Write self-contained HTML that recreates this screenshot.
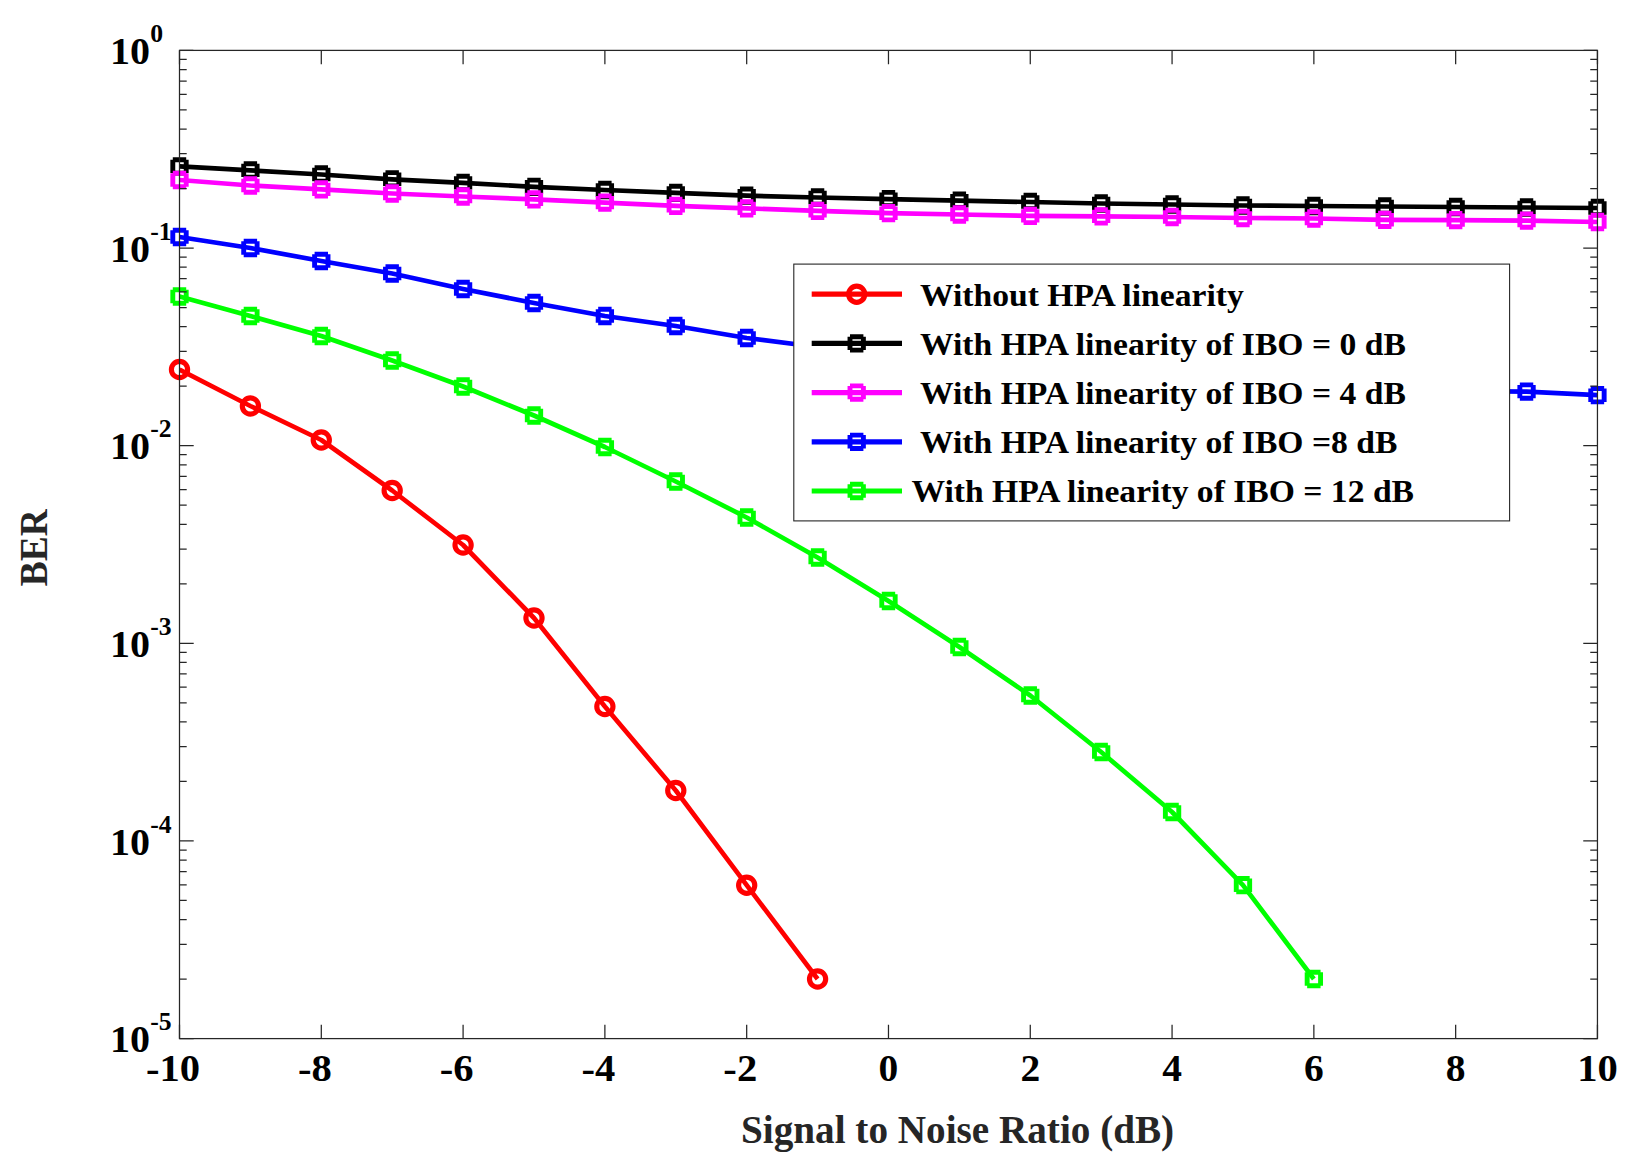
<!DOCTYPE html>
<html lang="en"><head><meta charset="utf-8"><title>BER vs SNR</title>
<style>html,body{margin:0;padding:0;background:#fff}body{width:1642px;height:1171px;overflow:hidden}svg{display:block}text{font-family:"Liberation Serif","DejaVu Serif",serif;font-weight:bold}</style>
</head><body>
<svg width="1642" height="1171" viewBox="0 0 1642 1171">
<rect x="0" y="0" width="1642" height="1171" fill="#fff"/>
<defs><clipPath id="ax"><rect x="179.5" y="50.4" width="1418.0" height="988.2"/></clipPath></defs>
<polyline points="179.50,369.50 250.40,406.00 321.30,440.00 392.19,490.50 463.09,545.00 533.99,618.00 604.88,706.50 675.78,790.50 746.68,885.20 817.58,979.00" fill="none" stroke="#ff0000" stroke-width="4.70" stroke-linejoin="round" clip-path="url(#ax)"/>
<circle cx="179.50" cy="369.50" r="8.10" stroke="#ff0000" stroke-width="5.15" fill="none"/>
<circle cx="250.40" cy="406.00" r="8.10" stroke="#ff0000" stroke-width="5.15" fill="none"/>
<circle cx="321.30" cy="440.00" r="8.10" stroke="#ff0000" stroke-width="5.15" fill="none"/>
<circle cx="392.19" cy="490.50" r="8.10" stroke="#ff0000" stroke-width="5.15" fill="none"/>
<circle cx="463.09" cy="545.00" r="8.10" stroke="#ff0000" stroke-width="5.15" fill="none"/>
<circle cx="533.99" cy="618.00" r="8.10" stroke="#ff0000" stroke-width="5.15" fill="none"/>
<circle cx="604.88" cy="706.50" r="8.10" stroke="#ff0000" stroke-width="5.15" fill="none"/>
<circle cx="675.78" cy="790.50" r="8.10" stroke="#ff0000" stroke-width="5.15" fill="none"/>
<circle cx="746.68" cy="885.20" r="8.10" stroke="#ff0000" stroke-width="5.15" fill="none"/>
<circle cx="817.58" cy="979.00" r="8.10" stroke="#ff0000" stroke-width="5.15" fill="none"/>
<polyline points="179.50,166.40 250.40,170.40 321.30,174.50 392.19,179.30 463.09,182.90 533.99,186.80 604.88,190.00 675.78,192.90 746.68,195.70 817.58,197.50 888.48,199.10 959.37,200.70 1030.27,202.00 1101.17,203.50 1172.07,204.50 1242.96,205.50 1313.86,206.00 1384.76,206.50 1455.66,207.00 1526.55,207.50 1597.45,208.00" fill="none" stroke="#000000" stroke-width="4.70" stroke-linejoin="round" clip-path="url(#ax)"/>
<path d="M172.80 159.70H186.20M172.80 173.10H186.20M172.80 159.70V173.10M186.20 159.70V173.10" stroke="#000000" stroke-width="4.90" fill="none"/>
<path d="M243.70 163.70H257.10M243.70 177.10H257.10M243.70 163.70V177.10M257.10 163.70V177.10" stroke="#000000" stroke-width="4.90" fill="none"/>
<path d="M314.60 167.80H328.00M314.60 181.20H328.00M314.60 167.80V181.20M328.00 167.80V181.20" stroke="#000000" stroke-width="4.90" fill="none"/>
<path d="M385.49 172.60H398.89M385.49 186.00H398.89M385.49 172.60V186.00M398.89 172.60V186.00" stroke="#000000" stroke-width="4.90" fill="none"/>
<path d="M456.39 176.20H469.79M456.39 189.60H469.79M456.39 176.20V189.60M469.79 176.20V189.60" stroke="#000000" stroke-width="4.90" fill="none"/>
<path d="M527.29 180.10H540.69M527.29 193.50H540.69M527.29 180.10V193.50M540.69 180.10V193.50" stroke="#000000" stroke-width="4.90" fill="none"/>
<path d="M598.18 183.30H611.59M598.18 196.70H611.59M598.18 183.30V196.70M611.59 183.30V196.70" stroke="#000000" stroke-width="4.90" fill="none"/>
<path d="M669.08 186.20H682.48M669.08 199.60H682.48M669.08 186.20V199.60M682.48 186.20V199.60" stroke="#000000" stroke-width="4.90" fill="none"/>
<path d="M739.98 189.00H753.38M739.98 202.40H753.38M739.98 189.00V202.40M753.38 189.00V202.40" stroke="#000000" stroke-width="4.90" fill="none"/>
<path d="M810.88 190.80H824.28M810.88 204.20H824.28M810.88 190.80V204.20M824.28 190.80V204.20" stroke="#000000" stroke-width="4.90" fill="none"/>
<path d="M881.78 192.40H895.18M881.78 205.80H895.18M881.78 192.40V205.80M895.18 192.40V205.80" stroke="#000000" stroke-width="4.90" fill="none"/>
<path d="M952.67 194.00H966.07M952.67 207.40H966.07M952.67 194.00V207.40M966.07 194.00V207.40" stroke="#000000" stroke-width="4.90" fill="none"/>
<path d="M1023.57 195.30H1036.97M1023.57 208.70H1036.97M1023.57 195.30V208.70M1036.97 195.30V208.70" stroke="#000000" stroke-width="4.90" fill="none"/>
<path d="M1094.47 196.80H1107.87M1094.47 210.20H1107.87M1094.47 196.80V210.20M1107.87 196.80V210.20" stroke="#000000" stroke-width="4.90" fill="none"/>
<path d="M1165.37 197.80H1178.77M1165.37 211.20H1178.77M1165.37 197.80V211.20M1178.77 197.80V211.20" stroke="#000000" stroke-width="4.90" fill="none"/>
<path d="M1236.26 198.80H1249.66M1236.26 212.20H1249.66M1236.26 198.80V212.20M1249.66 198.80V212.20" stroke="#000000" stroke-width="4.90" fill="none"/>
<path d="M1307.16 199.30H1320.56M1307.16 212.70H1320.56M1307.16 199.30V212.70M1320.56 199.30V212.70" stroke="#000000" stroke-width="4.90" fill="none"/>
<path d="M1378.06 199.80H1391.46M1378.06 213.20H1391.46M1378.06 199.80V213.20M1391.46 199.80V213.20" stroke="#000000" stroke-width="4.90" fill="none"/>
<path d="M1448.96 200.30H1462.36M1448.96 213.70H1462.36M1448.96 200.30V213.70M1462.36 200.30V213.70" stroke="#000000" stroke-width="4.90" fill="none"/>
<path d="M1519.85 200.80H1533.25M1519.85 214.20H1533.25M1519.85 200.80V214.20M1533.25 200.80V214.20" stroke="#000000" stroke-width="4.90" fill="none"/>
<path d="M1590.75 201.30H1604.15M1590.75 214.70H1604.15M1590.75 201.30V214.70M1604.15 201.30V214.70" stroke="#000000" stroke-width="4.90" fill="none"/>
<polyline points="179.50,180.00 250.40,185.50 321.30,189.40 392.19,193.50 463.09,196.50 533.99,199.40 604.88,202.60 675.78,205.90 746.68,208.40 817.58,210.90 888.48,213.20 959.37,214.50 1030.27,215.90 1101.17,216.40 1172.07,217.00 1242.96,218.00 1313.86,218.50 1384.76,219.80 1455.66,220.10 1526.55,220.60 1597.45,222.00" fill="none" stroke="#ff00ff" stroke-width="4.70" stroke-linejoin="round" clip-path="url(#ax)"/>
<path d="M172.80 173.30H186.20M172.80 186.70H186.20M172.80 173.30V186.70M186.20 173.30V186.70" stroke="#ff00ff" stroke-width="4.90" fill="none"/>
<path d="M243.70 178.80H257.10M243.70 192.20H257.10M243.70 178.80V192.20M257.10 178.80V192.20" stroke="#ff00ff" stroke-width="4.90" fill="none"/>
<path d="M314.60 182.70H328.00M314.60 196.10H328.00M314.60 182.70V196.10M328.00 182.70V196.10" stroke="#ff00ff" stroke-width="4.90" fill="none"/>
<path d="M385.49 186.80H398.89M385.49 200.20H398.89M385.49 186.80V200.20M398.89 186.80V200.20" stroke="#ff00ff" stroke-width="4.90" fill="none"/>
<path d="M456.39 189.80H469.79M456.39 203.20H469.79M456.39 189.80V203.20M469.79 189.80V203.20" stroke="#ff00ff" stroke-width="4.90" fill="none"/>
<path d="M527.29 192.70H540.69M527.29 206.10H540.69M527.29 192.70V206.10M540.69 192.70V206.10" stroke="#ff00ff" stroke-width="4.90" fill="none"/>
<path d="M598.18 195.90H611.59M598.18 209.30H611.59M598.18 195.90V209.30M611.59 195.90V209.30" stroke="#ff00ff" stroke-width="4.90" fill="none"/>
<path d="M669.08 199.20H682.48M669.08 212.60H682.48M669.08 199.20V212.60M682.48 199.20V212.60" stroke="#ff00ff" stroke-width="4.90" fill="none"/>
<path d="M739.98 201.70H753.38M739.98 215.10H753.38M739.98 201.70V215.10M753.38 201.70V215.10" stroke="#ff00ff" stroke-width="4.90" fill="none"/>
<path d="M810.88 204.20H824.28M810.88 217.60H824.28M810.88 204.20V217.60M824.28 204.20V217.60" stroke="#ff00ff" stroke-width="4.90" fill="none"/>
<path d="M881.78 206.50H895.18M881.78 219.90H895.18M881.78 206.50V219.90M895.18 206.50V219.90" stroke="#ff00ff" stroke-width="4.90" fill="none"/>
<path d="M952.67 207.80H966.07M952.67 221.20H966.07M952.67 207.80V221.20M966.07 207.80V221.20" stroke="#ff00ff" stroke-width="4.90" fill="none"/>
<path d="M1023.57 209.20H1036.97M1023.57 222.60H1036.97M1023.57 209.20V222.60M1036.97 209.20V222.60" stroke="#ff00ff" stroke-width="4.90" fill="none"/>
<path d="M1094.47 209.70H1107.87M1094.47 223.10H1107.87M1094.47 209.70V223.10M1107.87 209.70V223.10" stroke="#ff00ff" stroke-width="4.90" fill="none"/>
<path d="M1165.37 210.30H1178.77M1165.37 223.70H1178.77M1165.37 210.30V223.70M1178.77 210.30V223.70" stroke="#ff00ff" stroke-width="4.90" fill="none"/>
<path d="M1236.26 211.30H1249.66M1236.26 224.70H1249.66M1236.26 211.30V224.70M1249.66 211.30V224.70" stroke="#ff00ff" stroke-width="4.90" fill="none"/>
<path d="M1307.16 211.80H1320.56M1307.16 225.20H1320.56M1307.16 211.80V225.20M1320.56 211.80V225.20" stroke="#ff00ff" stroke-width="4.90" fill="none"/>
<path d="M1378.06 213.10H1391.46M1378.06 226.50H1391.46M1378.06 213.10V226.50M1391.46 213.10V226.50" stroke="#ff00ff" stroke-width="4.90" fill="none"/>
<path d="M1448.96 213.40H1462.36M1448.96 226.80H1462.36M1448.96 213.40V226.80M1462.36 213.40V226.80" stroke="#ff00ff" stroke-width="4.90" fill="none"/>
<path d="M1519.85 213.90H1533.25M1519.85 227.30H1533.25M1519.85 213.90V227.30M1533.25 213.90V227.30" stroke="#ff00ff" stroke-width="4.90" fill="none"/>
<path d="M1590.75 215.30H1604.15M1590.75 228.70H1604.15M1590.75 215.30V228.70M1604.15 215.30V228.70" stroke="#ff00ff" stroke-width="4.90" fill="none"/>
<polyline points="179.50,237.00 250.40,248.00 321.30,261.00 392.19,273.50 463.09,289.00 533.99,303.00 604.88,316.00 675.78,326.00 746.68,338.00 817.58,347.00 888.48,354.00 959.37,360.00 1030.27,366.00 1101.17,371.00 1172.07,376.00 1242.96,380.00 1313.86,384.00 1384.76,388.00 1455.66,391.00 1526.55,391.60 1597.45,395.20" fill="none" stroke="#0000ff" stroke-width="4.70" stroke-linejoin="round" clip-path="url(#ax)"/>
<path d="M172.80 230.30H186.20M172.80 243.70H186.20M172.80 230.30V243.70M186.20 230.30V243.70" stroke="#0000ff" stroke-width="4.90" fill="none"/>
<path d="M243.70 241.30H257.10M243.70 254.70H257.10M243.70 241.30V254.70M257.10 241.30V254.70" stroke="#0000ff" stroke-width="4.90" fill="none"/>
<path d="M314.60 254.30H328.00M314.60 267.70H328.00M314.60 254.30V267.70M328.00 254.30V267.70" stroke="#0000ff" stroke-width="4.90" fill="none"/>
<path d="M385.49 266.80H398.89M385.49 280.20H398.89M385.49 266.80V280.20M398.89 266.80V280.20" stroke="#0000ff" stroke-width="4.90" fill="none"/>
<path d="M456.39 282.30H469.79M456.39 295.70H469.79M456.39 282.30V295.70M469.79 282.30V295.70" stroke="#0000ff" stroke-width="4.90" fill="none"/>
<path d="M527.29 296.30H540.69M527.29 309.70H540.69M527.29 296.30V309.70M540.69 296.30V309.70" stroke="#0000ff" stroke-width="4.90" fill="none"/>
<path d="M598.18 309.30H611.59M598.18 322.70H611.59M598.18 309.30V322.70M611.59 309.30V322.70" stroke="#0000ff" stroke-width="4.90" fill="none"/>
<path d="M669.08 319.30H682.48M669.08 332.70H682.48M669.08 319.30V332.70M682.48 319.30V332.70" stroke="#0000ff" stroke-width="4.90" fill="none"/>
<path d="M739.98 331.30H753.38M739.98 344.70H753.38M739.98 331.30V344.70M753.38 331.30V344.70" stroke="#0000ff" stroke-width="4.90" fill="none"/>
<path d="M810.88 340.30H824.28M810.88 353.70H824.28M810.88 340.30V353.70M824.28 340.30V353.70" stroke="#0000ff" stroke-width="4.90" fill="none"/>
<path d="M881.78 347.30H895.18M881.78 360.70H895.18M881.78 347.30V360.70M895.18 347.30V360.70" stroke="#0000ff" stroke-width="4.90" fill="none"/>
<path d="M952.67 353.30H966.07M952.67 366.70H966.07M952.67 353.30V366.70M966.07 353.30V366.70" stroke="#0000ff" stroke-width="4.90" fill="none"/>
<path d="M1023.57 359.30H1036.97M1023.57 372.70H1036.97M1023.57 359.30V372.70M1036.97 359.30V372.70" stroke="#0000ff" stroke-width="4.90" fill="none"/>
<path d="M1094.47 364.30H1107.87M1094.47 377.70H1107.87M1094.47 364.30V377.70M1107.87 364.30V377.70" stroke="#0000ff" stroke-width="4.90" fill="none"/>
<path d="M1165.37 369.30H1178.77M1165.37 382.70H1178.77M1165.37 369.30V382.70M1178.77 369.30V382.70" stroke="#0000ff" stroke-width="4.90" fill="none"/>
<path d="M1236.26 373.30H1249.66M1236.26 386.70H1249.66M1236.26 373.30V386.70M1249.66 373.30V386.70" stroke="#0000ff" stroke-width="4.90" fill="none"/>
<path d="M1307.16 377.30H1320.56M1307.16 390.70H1320.56M1307.16 377.30V390.70M1320.56 377.30V390.70" stroke="#0000ff" stroke-width="4.90" fill="none"/>
<path d="M1378.06 381.30H1391.46M1378.06 394.70H1391.46M1378.06 381.30V394.70M1391.46 381.30V394.70" stroke="#0000ff" stroke-width="4.90" fill="none"/>
<path d="M1448.96 384.30H1462.36M1448.96 397.70H1462.36M1448.96 384.30V397.70M1462.36 384.30V397.70" stroke="#0000ff" stroke-width="4.90" fill="none"/>
<path d="M1519.85 384.90H1533.25M1519.85 398.30H1533.25M1519.85 384.90V398.30M1533.25 384.90V398.30" stroke="#0000ff" stroke-width="4.90" fill="none"/>
<path d="M1590.75 388.50H1604.15M1590.75 401.90H1604.15M1590.75 388.50V401.90M1604.15 388.50V401.90" stroke="#0000ff" stroke-width="4.90" fill="none"/>
<polyline points="179.50,296.50 250.40,316.00 321.30,336.00 392.19,360.50 463.09,386.50 533.99,415.50 604.88,447.00 675.78,481.50 746.68,517.50 817.58,557.50 888.48,601.00 959.37,647.00 1030.27,695.50 1101.17,752.00 1172.07,812.00 1242.96,885.20 1313.86,979.00" fill="none" stroke="#00ff00" stroke-width="4.70" stroke-linejoin="round" clip-path="url(#ax)"/>
<path d="M172.80 289.80H186.20M172.80 303.20H186.20M172.80 289.80V303.20M186.20 289.80V303.20" stroke="#00ff00" stroke-width="4.90" fill="none"/>
<path d="M243.70 309.30H257.10M243.70 322.70H257.10M243.70 309.30V322.70M257.10 309.30V322.70" stroke="#00ff00" stroke-width="4.90" fill="none"/>
<path d="M314.60 329.30H328.00M314.60 342.70H328.00M314.60 329.30V342.70M328.00 329.30V342.70" stroke="#00ff00" stroke-width="4.90" fill="none"/>
<path d="M385.49 353.80H398.89M385.49 367.20H398.89M385.49 353.80V367.20M398.89 353.80V367.20" stroke="#00ff00" stroke-width="4.90" fill="none"/>
<path d="M456.39 379.80H469.79M456.39 393.20H469.79M456.39 379.80V393.20M469.79 379.80V393.20" stroke="#00ff00" stroke-width="4.90" fill="none"/>
<path d="M527.29 408.80H540.69M527.29 422.20H540.69M527.29 408.80V422.20M540.69 408.80V422.20" stroke="#00ff00" stroke-width="4.90" fill="none"/>
<path d="M598.18 440.30H611.59M598.18 453.70H611.59M598.18 440.30V453.70M611.59 440.30V453.70" stroke="#00ff00" stroke-width="4.90" fill="none"/>
<path d="M669.08 474.80H682.48M669.08 488.20H682.48M669.08 474.80V488.20M682.48 474.80V488.20" stroke="#00ff00" stroke-width="4.90" fill="none"/>
<path d="M739.98 510.80H753.38M739.98 524.20H753.38M739.98 510.80V524.20M753.38 510.80V524.20" stroke="#00ff00" stroke-width="4.90" fill="none"/>
<path d="M810.88 550.80H824.28M810.88 564.20H824.28M810.88 550.80V564.20M824.28 550.80V564.20" stroke="#00ff00" stroke-width="4.90" fill="none"/>
<path d="M881.78 594.30H895.18M881.78 607.70H895.18M881.78 594.30V607.70M895.18 594.30V607.70" stroke="#00ff00" stroke-width="4.90" fill="none"/>
<path d="M952.67 640.30H966.07M952.67 653.70H966.07M952.67 640.30V653.70M966.07 640.30V653.70" stroke="#00ff00" stroke-width="4.90" fill="none"/>
<path d="M1023.57 688.80H1036.97M1023.57 702.20H1036.97M1023.57 688.80V702.20M1036.97 688.80V702.20" stroke="#00ff00" stroke-width="4.90" fill="none"/>
<path d="M1094.47 745.30H1107.87M1094.47 758.70H1107.87M1094.47 745.30V758.70M1107.87 745.30V758.70" stroke="#00ff00" stroke-width="4.90" fill="none"/>
<path d="M1165.37 805.30H1178.77M1165.37 818.70H1178.77M1165.37 805.30V818.70M1178.77 805.30V818.70" stroke="#00ff00" stroke-width="4.90" fill="none"/>
<path d="M1236.26 878.50H1249.66M1236.26 891.90H1249.66M1236.26 878.50V891.90M1249.66 878.50V891.90" stroke="#00ff00" stroke-width="4.90" fill="none"/>
<path d="M1307.16 972.30H1320.56M1307.16 985.70H1320.56M1307.16 972.30V985.70M1320.56 972.30V985.70" stroke="#00ff00" stroke-width="4.90" fill="none"/>
<g stroke="#262626" stroke-width="1.25" fill="none">
<rect x="179.50" y="50.40" width="1417.95" height="988.20"/>
<path d="M179.50 1038.60v-13.8M179.50 50.40v13.8M321.30 1038.60v-13.8M321.30 50.40v13.8M463.09 1038.60v-13.8M463.09 50.40v13.8M604.88 1038.60v-13.8M604.88 50.40v13.8M746.68 1038.60v-13.8M746.68 50.40v13.8M888.48 1038.60v-13.8M888.48 50.40v13.8M1030.27 1038.60v-13.8M1030.27 50.40v13.8M1172.07 1038.60v-13.8M1172.07 50.40v13.8M1313.86 1038.60v-13.8M1313.86 50.40v13.8M1455.66 1038.60v-13.8M1455.66 50.40v13.8M1597.45 1038.60v-13.8M1597.45 50.40v13.8M179.50 50.40h13.8M1597.45 50.40h-13.8M179.50 248.04h14.2M1597.45 248.04h-14.2M179.50 188.54h7.2M1597.45 188.54h-7.2M179.50 153.74h7.2M1597.45 153.74h-7.2M179.50 129.05h7.2M1597.45 129.05h-7.2M179.50 109.90h7.2M1597.45 109.90h-7.2M179.50 94.25h7.2M1597.45 94.25h-7.2M179.50 81.01h7.2M1597.45 81.01h-7.2M179.50 69.55h7.2M1597.45 69.55h-7.2M179.50 59.44h7.2M1597.45 59.44h-7.2M179.50 445.68h14.2M1597.45 445.68h-14.2M179.50 386.18h7.2M1597.45 386.18h-7.2M179.50 351.38h7.2M1597.45 351.38h-7.2M179.50 326.69h7.2M1597.45 326.69h-7.2M179.50 307.54h7.2M1597.45 307.54h-7.2M179.50 291.89h7.2M1597.45 291.89h-7.2M179.50 278.65h7.2M1597.45 278.65h-7.2M179.50 267.19h7.2M1597.45 267.19h-7.2M179.50 257.08h7.2M1597.45 257.08h-7.2M179.50 643.32h14.2M1597.45 643.32h-14.2M179.50 583.82h7.2M1597.45 583.82h-7.2M179.50 549.02h7.2M1597.45 549.02h-7.2M179.50 524.33h7.2M1597.45 524.33h-7.2M179.50 505.18h7.2M1597.45 505.18h-7.2M179.50 489.53h7.2M1597.45 489.53h-7.2M179.50 476.29h7.2M1597.45 476.29h-7.2M179.50 464.83h7.2M1597.45 464.83h-7.2M179.50 454.72h7.2M1597.45 454.72h-7.2M179.50 840.96h14.2M1597.45 840.96h-14.2M179.50 781.46h7.2M1597.45 781.46h-7.2M179.50 746.66h7.2M1597.45 746.66h-7.2M179.50 721.97h7.2M1597.45 721.97h-7.2M179.50 702.82h7.2M1597.45 702.82h-7.2M179.50 687.17h7.2M1597.45 687.17h-7.2M179.50 673.93h7.2M1597.45 673.93h-7.2M179.50 662.47h7.2M1597.45 662.47h-7.2M179.50 652.36h7.2M1597.45 652.36h-7.2M179.50 1038.60h14.2M1597.45 1038.60h-14.2M179.50 979.10h7.2M1597.45 979.10h-7.2M179.50 944.30h7.2M1597.45 944.30h-7.2M179.50 919.61h7.2M1597.45 919.61h-7.2M179.50 900.46h7.2M1597.45 900.46h-7.2M179.50 884.81h7.2M1597.45 884.81h-7.2M179.50 871.57h7.2M1597.45 871.57h-7.2M179.50 860.11h7.2M1597.45 860.11h-7.2M179.50 850.00h7.2M1597.45 850.00h-7.2"/>
</g>
<g font-size="37.6px" fill="#000">
<text transform="translate(173.10,1081.00) scale(1.080,1)" text-anchor="middle">-10</text>
<text transform="translate(314.90,1081.00) scale(1.080,1)" text-anchor="middle">-8</text>
<text transform="translate(456.69,1081.00) scale(1.080,1)" text-anchor="middle">-6</text>
<text transform="translate(598.49,1081.00) scale(1.080,1)" text-anchor="middle">-4</text>
<text transform="translate(740.28,1081.00) scale(1.080,1)" text-anchor="middle">-2</text>
<text transform="translate(888.48,1081.00) scale(1.050,1)" text-anchor="middle">0</text>
<text transform="translate(1030.27,1081.00) scale(1.050,1)" text-anchor="middle">2</text>
<text transform="translate(1172.07,1081.00) scale(1.050,1)" text-anchor="middle">4</text>
<text transform="translate(1313.86,1081.00) scale(1.050,1)" text-anchor="middle">6</text>
<text transform="translate(1455.66,1081.00) scale(1.050,1)" text-anchor="middle">8</text>
<text transform="translate(1597.45,1081.00) scale(1.080,1)" text-anchor="middle">10</text>
<text transform="translate(150.00,64.00) scale(1.065,1)" text-anchor="end">10</text>
<text transform="translate(150.30,42.20) scale(1.020,1)" text-anchor="start" font-size="25.2px">0</text>
<text transform="translate(150.00,261.64) scale(1.065,1)" text-anchor="end">10</text>
<text transform="translate(150.30,239.84) scale(1.020,1)" text-anchor="start" font-size="25.2px">-1</text>
<text transform="translate(150.00,459.28) scale(1.065,1)" text-anchor="end">10</text>
<text transform="translate(150.30,437.48) scale(1.020,1)" text-anchor="start" font-size="25.2px">-2</text>
<text transform="translate(150.00,656.92) scale(1.065,1)" text-anchor="end">10</text>
<text transform="translate(150.30,635.12) scale(1.020,1)" text-anchor="start" font-size="25.2px">-3</text>
<text transform="translate(150.00,854.56) scale(1.065,1)" text-anchor="end">10</text>
<text transform="translate(150.30,832.76) scale(1.020,1)" text-anchor="start" font-size="25.2px">-4</text>
<text transform="translate(150.00,1052.20) scale(1.065,1)" text-anchor="end">10</text>
<text transform="translate(150.30,1030.40) scale(1.020,1)" text-anchor="start" font-size="25.2px">-5</text>
</g>
<text transform="translate(957.6,1142.6) scale(0.992,1)" text-anchor="middle" font-size="39.5px" fill="#262626">Signal to Noise Ratio (dB)</text>
<text transform="translate(47,547.7) rotate(-90) scale(0.948,1)" text-anchor="middle" font-size="39.5px" fill="#262626">BER</text>
<rect x="793.8" y="264.1" width="715.8" height="256.8" fill="#fff" stroke="#262626" stroke-width="1.1"/>
<g font-size="31px" fill="#000">
<line x1="811.7" y1="294.2" x2="902" y2="294.2" stroke="#ff0000" stroke-width="5.20"/>
<circle cx="856.70" cy="294.20" r="8.10" stroke="#ff0000" stroke-width="5.15" fill="none"/>
<text transform="translate(920.00,305.60) scale(1.085,1)" text-anchor="start">Without HPA linearity</text>
<line x1="811.7" y1="343.4" x2="902" y2="343.4" stroke="#000000" stroke-width="5.20"/>
<path d="M850.00 336.70H863.40M850.00 350.10H863.40M850.00 336.70V350.10M863.40 336.70V350.10" stroke="#000000" stroke-width="4.90" fill="none"/>
<text transform="translate(920.00,354.80) scale(1.085,1)" text-anchor="start">With HPA linearity of IBO = 0 dB</text>
<line x1="811.7" y1="392.6" x2="902" y2="392.6" stroke="#ff00ff" stroke-width="5.20"/>
<path d="M850.00 385.90H863.40M850.00 399.30H863.40M850.00 385.90V399.30M863.40 385.90V399.30" stroke="#ff00ff" stroke-width="4.90" fill="none"/>
<text transform="translate(920.00,404.00) scale(1.085,1)" text-anchor="start">With HPA linearity of IBO = 4 dB</text>
<line x1="811.7" y1="441.8" x2="902" y2="441.8" stroke="#0000ff" stroke-width="5.20"/>
<path d="M850.00 435.10H863.40M850.00 448.50H863.40M850.00 435.10V448.50M863.40 435.10V448.50" stroke="#0000ff" stroke-width="4.90" fill="none"/>
<text transform="translate(920.00,453.20) scale(1.085,1)" text-anchor="start">With HPA linearity of IBO =8 dB</text>
<line x1="811.7" y1="491.0" x2="902" y2="491.0" stroke="#00ff00" stroke-width="5.20"/>
<path d="M850.00 484.30H863.40M850.00 497.70H863.40M850.00 484.30V497.70M863.40 484.30V497.70" stroke="#00ff00" stroke-width="4.90" fill="none"/>
<text transform="translate(911.40,502.40) scale(1.085,1)" text-anchor="start">With HPA linearity of IBO = 12 dB</text>
</g>
</svg></body></html>
